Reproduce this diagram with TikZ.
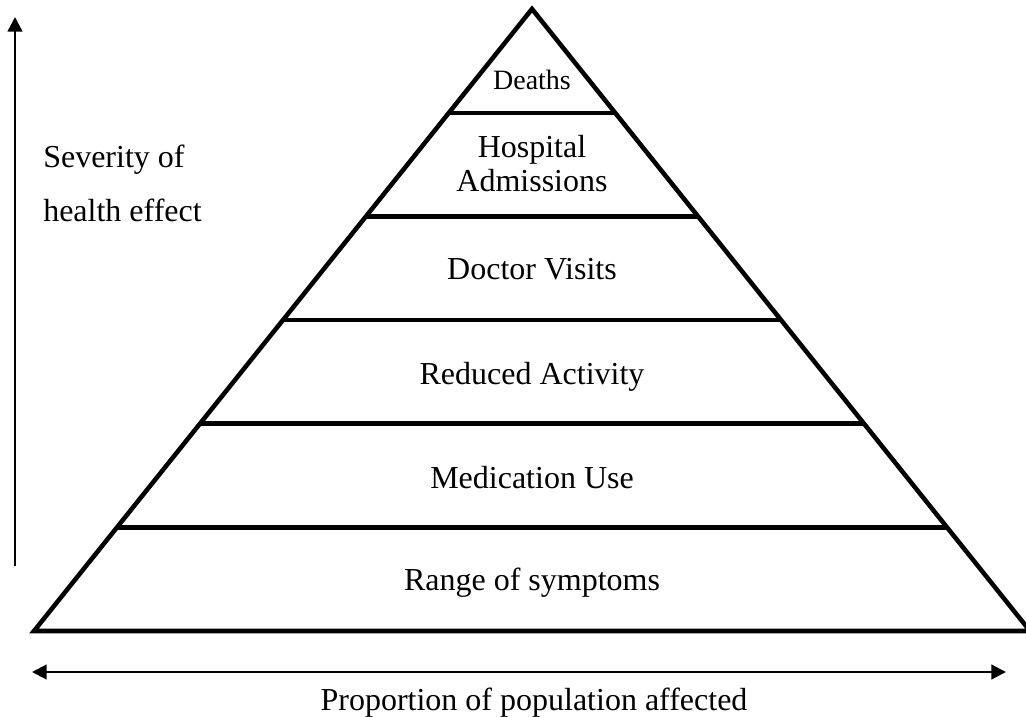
\documentclass[tikz,border=0pt]{standalone}
\usepackage{fontspec}
\setmainfont{Liberation Serif}
\usetikzlibrary{calc,arrows.meta}
\begin{document}
\begin{tikzpicture}[x=0.75pt,y=-0.75pt,
  tier/.style={line width=3.4pt},
  outline/.style={line width=3.4pt,line join=miter},
  label/.style={font=\fontsize{24}{28}\selectfont,inner sep=0pt,anchor=base},
  small/.style={label,font=\fontsize{21}{25}\selectfont},
  axis/.style={line width=1.8pt,-{Triangle[length=11pt,width=11pt]}},
  axis2/.style={line width=1.6pt,{Triangle[length=11pt,width=11pt]}-{Triangle[length=11pt,width=11pt]}}]
\useasboundingbox (0,0) rectangle (1026,717);
% pyramid outline
\coordinate (apex) at (532,9);
\coordinate (bl) at (34,631);
\coordinate (br) at (1030,631);
\draw[outline] (apex) -- (bl) -- (br) -- cycle;
% tier dividers
\foreach \i/\t in {1/0.1672,2/0.3338,3/0.5002,4/0.6668,5/0.8334}{
  \coordinate (L\i) at ($(apex)!\t!(bl)$);
  \coordinate (R\i) at ($(apex)!\t!(br)$);
  \draw[tier] (L\i) -- (R\i);
}
% tier labels
\node[small] (deaths) at (532,90) {Deaths};
\node[label] (hosp1) at (532,157) {Hospital};
\node[label] (hosp2) at (532,191) {Admissions};
\node[label] (doc) at (532,279) {Doctor Visits};
\node[label] (red) at (532,384) {Reduced Activity};
\node[label] (med) at (532,488) {Medication Use};
\node[label] (range) at (532,590) {Range of symptoms};
% axes
\coordinate (ybot) at (15,566);
\coordinate (ytop) at (15,17);
\draw[axis] (ybot) -- (ytop);
\node[label,anchor=base west] (sev1) at (43,167) {Severity of};
\node[label,anchor=base west] (sev2) at (43,221) {health effect};
\coordinate (xl) at (32,672);
\coordinate (xr) at (1006,672);
\draw[axis2] (xl) -- (xr);
\node[label] (prop) at (534,710) {Proportion of population affected};
\end{tikzpicture}
\end{document}
